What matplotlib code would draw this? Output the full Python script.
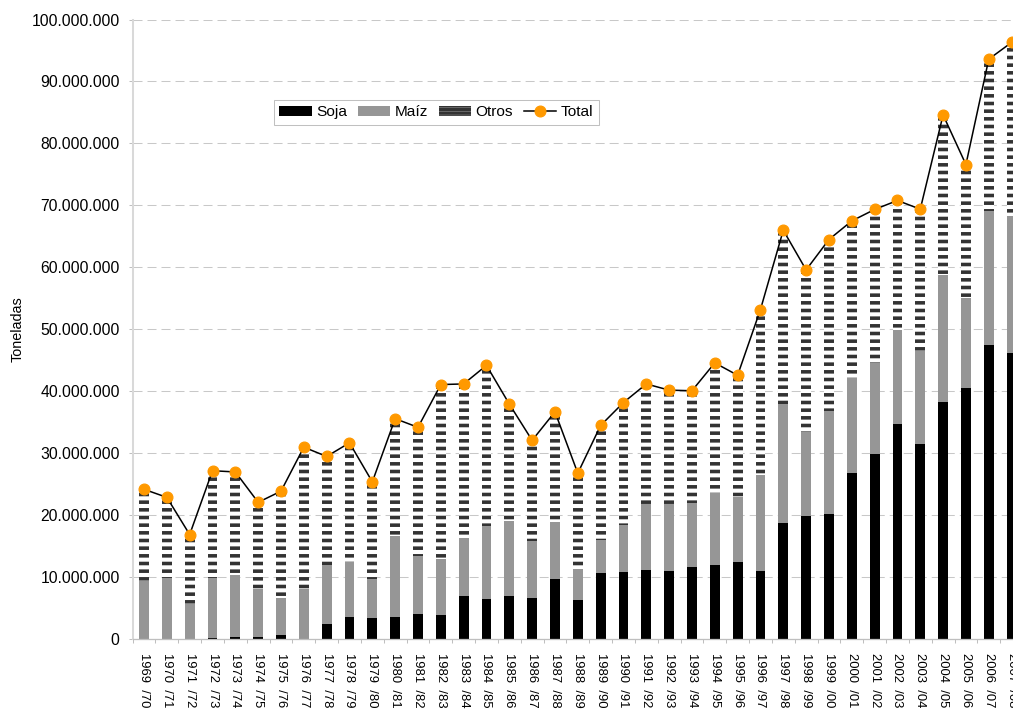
import numpy as np
import matplotlib
matplotlib.use("Agg")
from matplotlib import pyplot as plt
from matplotlib.patches import Patch
from matplotlib.ticker import FuncFormatter

# campañas agrícolas
campanias = ["1969  /70", "1970  /71", "1971  /72", "1972  /73", "1973  /74", "1974  /75",
             "1975  /76", "1976  /77", "1977  /78", "1978  /79", "1979  /80", "1980  /81",
             "1981  /82", "1982  /83", "1983  /84", "1984  /85", "1985  /86", "1986  /87",
             "1987  /88", "1988  /89", "1989  /90", "1990  /91", "1991  /92", "1992  /93",
             "1993  /94", "1994  /95", "1995  /96", "1996  /97", "1997  /98", "1998  /99",
             "1999  /00", "2000  /01", "2001  /02", "2002  /03", "2003  /04", "2004  /05",
             "2005  /06", "2006  /07", "2007  /08"]

# millones de toneladas
soja = [0, 0, 0, 0.2, 0.3, 0.3, 0.7, 0, 2.5, 3.6, 3.4, 3.6, 4.1, 3.9, 7.0, 6.5,
        7.0, 6.7, 9.7, 6.3, 10.7, 10.85, 11.2, 11.0, 11.7, 12.0, 12.5, 11.1, 18.8,
        19.9, 20.2, 26.8, 29.9, 34.7, 31.5, 38.3, 40.5, 47.5, 46.2]
maiz = [9.35, 9.9, 5.7, 9.7, 10.1, 7.8, 5.9, 8.1, 9.5, 8.8, 6.3, 13.1, 9.4, 9.05,
        9.4, 11.8, 12.1, 9.2, 9.3, 5.0, 5.3, 7.65, 10.6, 10.8, 10.3, 11.6, 10.4,
        15.35, 19.15, 13.6, 16.7, 15.3, 14.7, 15.2, 15.0, 20.4, 14.5, 21.6, 22.1]
total = [24.2, 22.9, 16.9, 27.2, 27.0, 22.1, 23.9, 31.0, 29.5, 31.7, 25.4, 35.6,
         34.2, 41.1, 41.2, 44.2, 37.95, 32.1, 36.7, 26.8, 34.5, 38.2, 41.2, 40.2,
         40.1, 44.6, 42.6, 53.2, 66.0, 59.6, 64.5, 67.5, 69.35, 70.8, 69.4, 84.6,
         76.6, 93.6, 96.3]

soja = np.array(soja) * 1e6
maiz = np.array(maiz) * 1e6
total = np.array(total) * 1e6
otros = total - soja - maiz

DPI = 92
plt.rcParams['font.family'] = ['Liberation Sans', 'DejaVu Sans']
plt.rcParams['hatch.linewidth'] = 2.8

fig = plt.figure(figsize=(1013 / DPI, 713 / DPI), dpi=DPI)
ax = fig.add_axes([132.6 / 1013, 73.7 / 713, 890.4 / 1013, 619.8 / 713])

x = np.arange(len(campanias))
w = 0.43
b1 = ax.bar(x, soja, w, color='black', label='Soja', zorder=2)
b2 = ax.bar(x, maiz, w, bottom=soja, color='#969696', label='Maíz', zorder=2)
ax.bar(x, otros, w, bottom=soja + maiz, color='white', edgecolor='#333333',
       hatch='--', linewidth=0, zorder=2)
l1, = ax.plot(x, total, color='black', lw=1.2, marker='o', ms=8.4, mfc='#ff9900',
              mec='#ff9900', label='Total', zorder=4, clip_on=False)

ax.set_xlim(-0.5, len(campanias) - 0.5)
ax.set_ylim(0, 100e6)
ax.set_yticks(np.arange(0, 100e6 + 1, 10e6))
ax.yaxis.set_major_formatter(FuncFormatter(lambda v, p: f"{int(v):,}".replace(',', '.')))
ax.yaxis.grid(True, color='#c8c8c8', linestyle=(0, (8.8, 4.9)), lw=0.8, zorder=0)
ax.set_axisbelow(True)

ax.set_xticks(x)
ax.set_xticklabels(campanias, rotation=-90)
ax.set_xticks(np.arange(-0.5, len(campanias)), minor=True)
ax.tick_params(axis='x', which='major', length=0, pad=10.5, labelsize=10.2)
ax.tick_params(axis='x', which='minor', length=3.5, color='#bfbfbf', width=0.8)
ax.tick_params(axis='y', length=3.5, color='#bfbfbf', width=0.8, pad=6.6, labelsize=12.3)

for s in ['top', 'right']:
    ax.spines[s].set_visible(False)
ax.spines['left'].set_color('#d9d9d9')
ax.spines['left'].set_linewidth(1.6)
ax.spines['bottom'].set_color('#bfbfbf')
ax.spines['bottom'].set_linewidth(1.0)

fig.text(17.5 / 1013, 1 - 329 / 713, 'Toneladas', rotation=90, ha='center',
         va='center', fontsize=11.3)

otros_h = Patch(facecolor='white', edgecolor='#333333', hatch='----', linewidth=0)
leg = ax.legend([b1, b2, otros_h, l1], ['Soja', 'Maíz', 'Otros', 'Total'],
                ncol=4, loc='upper left', bbox_to_anchor=(274 / 1013, 1 - 100 / 713),
                bbox_transform=fig.transFigure, borderaxespad=0, fontsize=12,
                handlelength=2.1, handletextpad=0.3, columnspacing=0.7,
                borderpad=0.35, fancybox=False, framealpha=1)
leg.get_frame().set_edgecolor('#c0c0c0')
leg.get_frame().set_linewidth(0.8)

fig.savefig('out.png', dpi=DPI)
